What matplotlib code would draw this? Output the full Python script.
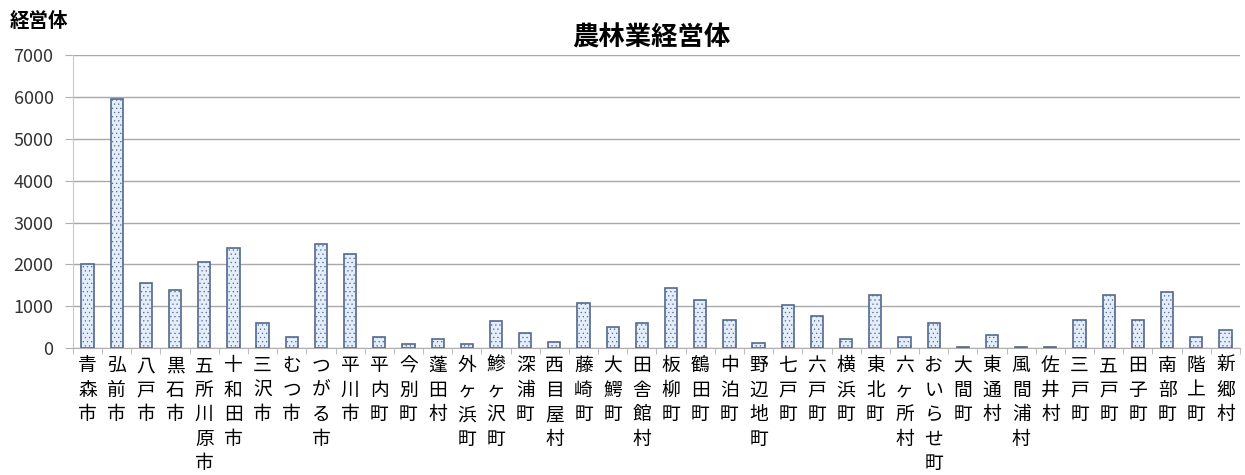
import matplotlib
matplotlib.use("Agg")
import matplotlib.pyplot as plt
import numpy as np

plt.rcParams['font.family'] = ['Noto Sans CJK JP', 'DejaVu Sans']
plt.rcParams['hatch.color'] = '#a9bedb'
plt.rcParams['hatch.linewidth'] = 0.4

# municipalities of Aomori
names = ["青森市", "弘前市", "八戸市", "黒石市", "五所川原市", "十和田市", "三沢市",
         "むつ市", "つがる市", "平川市", "平内町", "今別町", "蓬田村", "外ヶ浜町",
         "鰺ヶ沢町", "深浦町", "西目屋村", "藤崎町", "大鰐町", "田舎館村", "板柳町",
         "鶴田町", "中泊町", "野辺地町", "七戸町", "六戸町", "横浜町", "東北町",
         "六ヶ所村", "おいらせ町", "大間町", "東通村", "風間浦村", "佐井村", "三戸町",
         "五戸町", "田子町", "南部町", "階上町", "新郷村"]
counts = [2010, 5960, 1560, 1400, 2050, 2390, 600,
          255, 2500, 2250, 255, 110, 220, 95,
          640, 365, 150, 1090, 510, 605, 1440,
          1145, 670, 125, 1035, 780, 220, 1270,
          270, 605, 30, 325, 20, 25, 670,
          1270, 670, 1335, 255, 445]
yticks = [0, 1000, 2000, 3000, 4000, 5000, 6000, 7000]

fig = plt.figure(figsize=(12.45, 4.75), dpi=100)
ax = fig.add_axes([0.0586, 0.267, 0.9374, 0.617])

x = np.arange(len(names))
ax.bar(x, counts, width=0.42, color='#e3eefa', edgecolor='#55688f',
       linewidth=1.2, hatch='....', zorder=3)

ax.set_xlim(-0.5, len(names) - 0.5)
ax.set_ylim(0, 7000)
ax.set_yticks(yticks)
ax.set_yticklabels([str(v) for v in yticks], fontsize=13, color='#333333')
ax.grid(axis='y', color='#a8a8a8', linewidth=1.0, zorder=0)

# category labels written top to bottom
ax.set_xticks(x)
ax.set_xticklabels(["\n".join(n) for n in names], fontsize=13.5,
                   linespacing=1.22, va='top')
ax.tick_params(axis='x', length=0, pad=5)
ax.set_xticks(np.arange(len(names) + 1) - 0.5, minor=True)
ax.tick_params(axis='x', which='minor', length=4, color='#b0b0b0', direction='out')
ax.tick_params(axis='y', length=6, color='#b0b0b0', pad=8)

for side in ['top', 'right']:
    ax.spines[side].set_visible(False)
ax.spines['left'].set_color('#c8c8c8')
ax.spines['bottom'].set_color('#b0b0b0')

fig.text(0.523, 0.92, "農林業経営体", ha='center', va='center',
         fontsize=19, fontweight='bold')
fig.text(0.008, 0.954, "経営体", ha='left', va='center', fontsize=14,
         fontweight='bold')

fig.savefig("out.png", dpi=100)
